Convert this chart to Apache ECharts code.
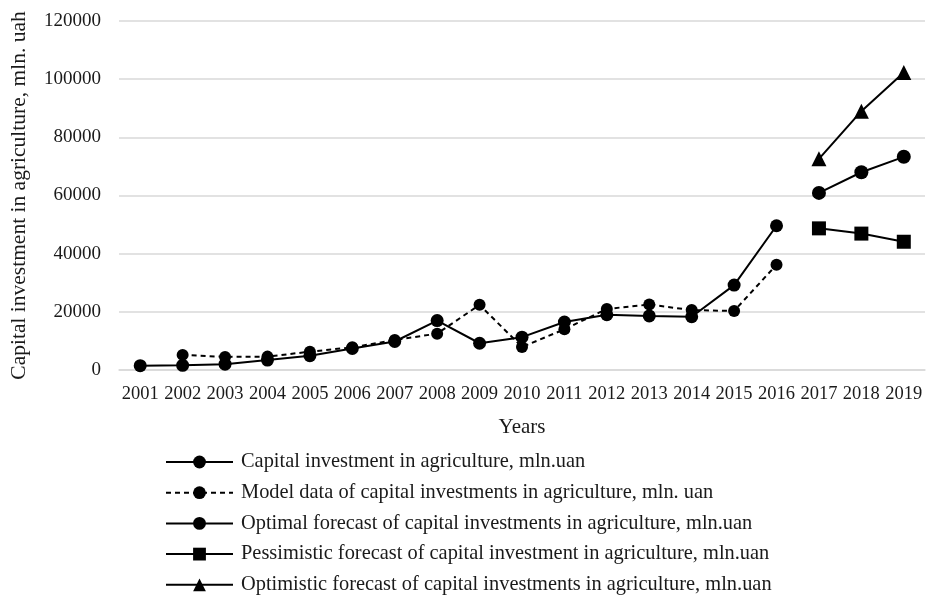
<!DOCTYPE html>
<html>
<head>
<meta charset="utf-8">
<script src="https://cdn.jsdelivr.net/npm/echarts@6/dist/echarts.min.js"></script>
<style>html,body{margin:0;padding:0;background:#fff}#c{width:930px;height:595px}</style>
</head>
<body>
<div id="c"></div>
<script>
const years = ['2001','2002','2003','2004','2005','2006','2007','2008','2009','2010','2011','2012','2013','2014','2015','2016','2017','2018','2019'];
const actual = [1500,1600,2000,3400,4900,7400,9800,17000,9200,11300,16500,19000,18600,18300,29200,49600,null,null,null];
const model = [null,5200,4500,4600,6300,7800,10300,12500,22400,7900,14000,21000,22500,20600,20300,36200,null,null,null];
const optimal = [null,null,null,null,null,null,null,null,null,null,null,null,null,null,null,null,60900,68000,73300];
const pessimistic = [null,null,null,null,null,null,null,null,null,null,null,null,null,null,null,null,48700,46900,44100];
const optimistic = [null,null,null,null,null,null,null,null,null,null,null,null,null,null,null,null,72600,89000,102300];
const names = [
  'Capital investment in agriculture, mln.uan',
  'Model data of capital investments in agriculture, mln. uan',
  'Optimal forecast of capital investments in agriculture, mln.uan',
  'Pessimistic forecast of capital investment in agriculture, mln.uan',
  'Optimistic forecast of capital investments in agriculture, mln.uan'
];
const font = 'Liberation Serif, Times New Roman, serif';
const txt = '#1a1a1a';
function mk(name, data, symbol, size, dashed) {
  return {
    name: name, type: 'line', data: data, symbol: symbol, symbolSize: size,
    connectNulls: false,
    lineStyle: {color: '#000', width: 2, type: dashed ? [5,4] : 'solid'},
    itemStyle: {color: '#000'},
    emphasis: {disabled: true}
  };
}
const chart = echarts.init(document.getElementById('c'), null, {renderer: 'canvas'});
const legends = names.map((n, i) => ({
  data: [n], left: 160, top: 447 + i * 30.7, orient: 'vertical',
  itemWidth: 67, itemHeight: 16, itemGap: 0,
  textStyle: {fontFamily: font, fontSize: 20.4, color: txt, padding: [0,0,0,3]},
  selectedMode: false
}));
chart.setOption({
  animation: false,
  backgroundColor: '#fff',
  legend: legends,
  grid: {left: 118, right: 5, top: 21, bottom: 225, containLabel: false},
  xAxis: {
    type: 'category', data: years, boundaryGap: true,
    name: 'Years', nameLocation: 'middle', nameGap: 47,
    nameTextStyle: {fontFamily: font, fontSize: 21, color: txt},
    axisLine: {lineStyle: {color: '#d9d9d9', width: 1.5}},
    axisTick: {show: false},
    axisLabel: {fontFamily: font, fontSize: 18.5, color: txt, margin: 15, interval: 0}
  },
  yAxis: {
    type: 'value', min: 0, max: 120000, interval: 20000,
    name: 'Capital investment in agriculture, mln. uah', nameLocation: 'middle', nameGap: 89,
    nameTextStyle: {fontFamily: font, fontSize: 21.5, color: txt},
    axisLine: {show: false}, axisTick: {show: false},
    splitLine: {lineStyle: {color: '#d9d9d9', width: 1.5}},
    axisLabel: {fontFamily: font, fontSize: 19, color: txt, margin: 18, formatter: v => String(v)}
  },
  series: [
    mk(names[0], actual, 'circle', 13, false),
    mk(names[1], model, 'circle', 12, true),
    mk(names[2], optimal, 'circle', 14, false),
    mk(names[3], pessimistic, 'rect', 14, false),
    mk(names[4], optimistic, 'triangle', 15, false)
  ]
});
</script>
</body>
</html>
